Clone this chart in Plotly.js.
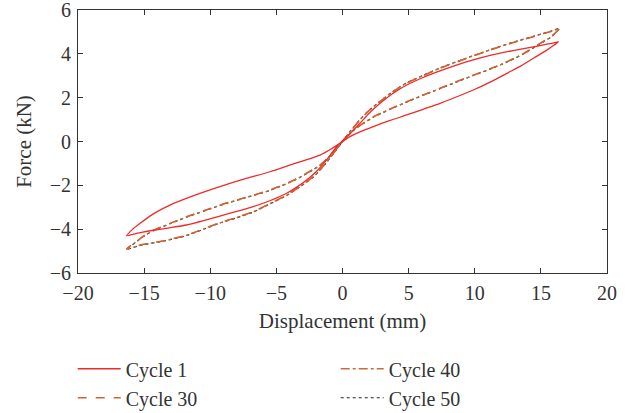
<!DOCTYPE html>
<html>
<head>
<meta charset="utf-8">
<script src="https://cdn.plot.ly/plotly-3.0.1.min.js"></script>
<style>html,body{margin:0;padding:0;background:#fff;}#chart{width:631px;height:413px;}</style>
</head>
<body>
<div id="chart"></div>
<script>
// Cycle 1 loop: negative tip -> upper-left -> origin -> lower-right -> positive tip -> upper-right -> origin -> lower-left -> negative tip
const cycle1X = [-16.32,-15.9,-15.3,-14.3,-13.05,-11.2,-9.27,-7.4,-5.48,-3.6,-1.7,-0.8,0,0.57,1.4,2.33,3.6,4.86,6.1,7.38,8.6,9.89,11.2,12.42,13.5,14.5,15.45,16.0,16.33,15.9,15.3,14.43,12.8,11.16,9.3,7.38,6.1,4.86,3.8,2.84,2.0,1.32,0.6,0.06,-0.32,-0.75,-1.2,-1.9,-2.71,-3.4,-4.22,-5.4,-6.75,-8.0,-9.27,-10.5,-11.79,-13.1,-14.31,-15.2,-15.8,-16.32];
const cycle1Y = [-4.30,-4.02,-3.73,-3.30,-2.90,-2.46,-2.06,-1.71,-1.38,-1.00,-0.62,-0.32,0.0,0.22,0.46,0.68,0.96,1.21,1.47,1.74,2.03,2.35,2.72,3.11,3.45,3.82,4.17,4.40,4.55,4.49,4.42,4.32,4.14,3.93,3.62,3.22,2.92,2.58,2.19,1.74,1.28,0.83,0.38,0.07,-0.16,-0.48,-0.84,-1.32,-1.76,-2.06,-2.36,-2.68,-2.97,-3.19,-3.40,-3.61,-3.81,-3.94,-4.05,-4.15,-4.23,-4.30];

// Cycle 30
const cycle30X = [-16.32,-15.5,-14.9,-14.31,-13.0,-11.79,-10.5,-9.27,-7.4,-5.48,-3.6,-1.7,-0.8,0,0.82,1.6,2.33,3.6,4.86,6.1,7.38,8.6,9.89,11.2,12.42,13.7,14.94,15.8,16.4,15.9,15.2,14.43,12.8,11.16,9.3,7.38,6.1,4.86,3.8,2.84,2.0,1.32,0.6,0,-0.69,-1.4,-2.21,-3.2,-4.22,-5.5,-6.75,-8.0,-9.27,-10.5,-11.79,-13.5,-15.3,-16.32];
const cycle30Y = [-4.90,-4.52,-4.25,-4.05,-3.72,-3.43,-3.16,-2.90,-2.56,-2.21,-1.74,-1.07,-0.56,0.0,0.52,0.85,1.13,1.49,1.82,2.13,2.43,2.73,3.03,3.33,3.64,4.02,4.48,4.80,5.15,5.04,4.92,4.78,4.49,4.17,3.77,3.34,3.00,2.66,2.26,1.82,1.40,0.98,0.46,0.0,-0.54,-1.08,-1.60,-2.04,-2.44,-2.83,-3.20,-3.46,-3.70,-3.98,-4.27,-4.52,-4.72,-4.90];

// Cycle 40
const cycle40X = [-16.32,-15.5,-14.9,-14.31,-13.0,-11.79,-10.5,-9.27,-7.4,-5.48,-3.6,-1.7,-0.8,0,0.82,1.6,2.33,3.6,4.86,6.1,7.38,8.6,9.89,11.2,12.42,13.7,14.94,15.8,16.4,15.9,15.2,14.43,12.8,11.16,9.3,7.38,6.1,4.86,3.8,2.84,2.0,1.32,0.6,0,-0.69,-1.4,-2.21,-3.2,-4.22,-5.5,-6.75,-8.0,-9.27,-10.5,-11.79,-13.5,-15.3,-16.32];
const cycle40Y = [-4.91,-4.53,-4.26,-4.06,-3.73,-3.44,-3.17,-2.91,-2.57,-2.22,-1.75,-1.08,-0.57,0.0,0.51,0.84,1.12,1.48,1.81,2.12,2.42,2.72,3.02,3.32,3.63,4.01,4.47,4.79,5.16,5.05,4.93,4.79,4.50,4.18,3.78,3.35,3.01,2.67,2.27,1.83,1.41,0.99,0.47,0.0,-0.55,-1.09,-1.61,-2.05,-2.45,-2.84,-3.21,-3.47,-3.71,-3.99,-4.28,-4.53,-4.73,-4.91];

// Cycle 50
const cycle50X = [-16.32,-15.5,-14.9,-14.31,-13.0,-11.79,-10.5,-9.27,-7.4,-5.48,-3.6,-1.7,-0.8,0,0.82,1.6,2.33,3.6,4.86,6.1,7.38,8.6,9.89,11.2,12.42,13.7,14.94,15.8,16.4,15.9,15.2,14.43,12.8,11.16,9.3,7.38,6.1,4.86,3.8,2.84,2.0,1.32,0.6,0,-0.69,-1.4,-2.21,-3.2,-4.22,-5.5,-6.75,-8.0,-9.27,-10.5,-11.79,-13.5,-15.3,-16.32];
const cycle50Y = [-4.92,-4.54,-4.27,-4.07,-3.74,-3.45,-3.18,-2.92,-2.58,-2.23,-1.76,-1.09,-0.58,0.0,0.50,0.83,1.11,1.47,1.80,2.11,2.41,2.71,3.01,3.31,3.62,4.00,4.46,4.78,5.17,5.06,4.94,4.80,4.51,4.19,3.79,3.36,3.02,2.68,2.28,1.84,1.42,1.00,0.48,0.0,-0.56,-1.10,-1.62,-2.06,-2.46,-2.85,-3.22,-3.48,-3.72,-4.00,-4.29,-4.54,-4.74,-4.92];

const seriesNames = ["Cycle 1","Cycle 30","Cycle 40","Cycle 50"];
const xTicks = [-20,-15,-10,-5,0,5,10,15,20];
const yTicks = [-6,-4,-2,0,2,4,6];

const serif = "Liberation Serif, Times New Roman, serif";
const lineShape = {shape:"spline", smoothing:0.6};

const traces = [
  {x:cycle50X, y:cycle50Y, name:seriesNames[3], legendrank:4, mode:"lines",
   line:Object.assign({color:"#222222", width:1.2, dash:"dot"}, lineShape)},
  {x:cycle40X, y:cycle40Y, name:seriesNames[2], legendrank:2, mode:"lines",
   line:Object.assign({color:"#c0703a", width:1.3, dash:"dashdot"}, lineShape)},
  {x:cycle30X, y:cycle30Y, name:seriesNames[1], legendrank:3, mode:"lines",
   line:Object.assign({color:"#d8602e", width:1.4, dash:"dash"}, lineShape)},
  {x:cycle1X, y:cycle1Y, name:seriesNames[0], legendrank:1, mode:"lines",
   line:Object.assign({color:"#ee2a2a", width:1.3}, lineShape)}
];

const axisCommon = {
  showline:true, linecolor:"#333", linewidth:1, mirror:"ticks",
  ticks:"inside", ticklen:5, tickcolor:"#333", tickwidth:1,
  showgrid:false, zeroline:false, automargin:false, ticklabeloverflow:"allow",
  tickfont:{family:serif, size:20, color:"#333"}
};

const layout = {
  width:631, height:413,
  margin:{l:78, r:24, t:10, b:140, autoexpand:false},
  paper_bgcolor:"#fff", plot_bgcolor:"#fff",
  font:{family:serif, color:"#333"},
  xaxis:Object.assign({}, axisCommon, {
    range:[-20,20], tickvals:xTicks, ticktext:xTicks.map(v=>v<0?"\u2212"+Math.abs(v):String(v)),
    ticklabelstandoff:2,
    title:{text:"Displacement (mm)", font:{family:serif, size:21, color:"#333"}, standoff:10}
  }),
  yaxis:Object.assign({}, axisCommon, {
    range:[-6,6], tickvals:yTicks, ticktext:yTicks.map(v=>v<0?"\u2212"+Math.abs(v):String(v)),
    ticklabelstandoff:2,
    title:{text:"Force (kN)", font:{family:serif, size:21, color:"#333"}, standoff:12}
  }),
  showlegend:true,
  legend:{orientation:"h", x:-0.01, xanchor:"left", y:-0.29, yanchor:"top",
    entrywidth:205, entrywidthmode:"pixels", traceorder:"normal",
    font:{family:serif, size:20, color:"#333"}, tracegroupgap:0, itemwidth:43,
    bgcolor:"rgba(0,0,0,0)"}
};

Plotly.newPlot("chart", traces, layout, {staticPlot:true, displayModeBar:false});
</script>
</body>
</html>
